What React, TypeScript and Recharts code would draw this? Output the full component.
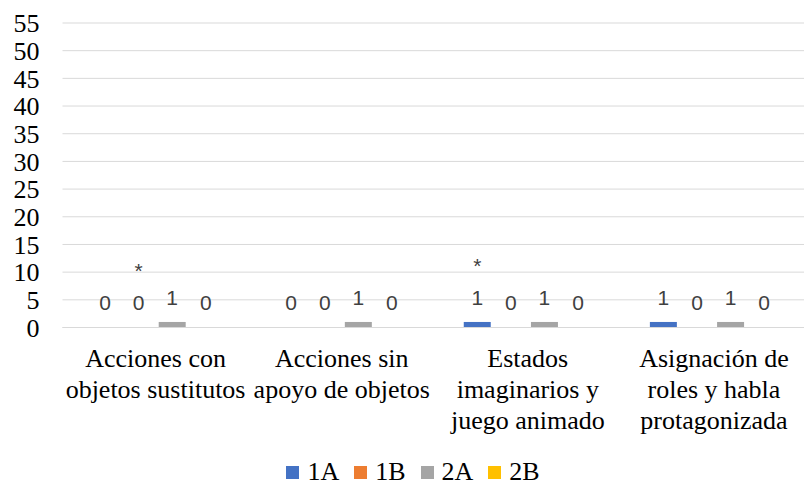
import { Bar, BarChart, CartesianGrid, LabelList, XAxis, YAxis } from "recharts";

const categories = [
  "Acciones con\nobjetos sustitutos",
  "Acciones sin\napoyo de objetos",
  "Estados\nimaginarios y\njuego animado",
  "Asignación de\nroles y habla\nprotagonizada",
];
const values1A = [0, 0, 1, 1];
const values1B = [0, 0, 0, 0];
const values2A = [1, 1, 1, 1];
const values2B = [0, 0, 0, 0];
// asterisks shown above some bars
const marks1A = ["", "", "*", ""];
const marks1B = ["*", "", "", ""];
const yTicks = [0, 5, 10, 15, 20, 25, 30, 35, 40, 45, 50, 55];

const series = [
  { key: "1A", color: "#4472C4" },
  { key: "1B", color: "#ED7D31" },
  { key: "2A", color: "#A5A5A5" },
  { key: "2B", color: "#FFC000" },
];

const data = categories.map((name, i) => ({
  name,
  "1A": values1A[i],
  "1B": values1B[i],
  "2A": values2A[i],
  "2B": values2B[i],
  m1A: marks1A[i],
  m1B: marks1B[i],
}));

const SERIF = "Liberation Serif";
const SANS = "Liberation Sans";

const fontCss = `
html body div.chart-box .serif-text,
html body div.chart-box .serif-text *,
html body div.chart-box svg text.recharts-cartesian-axis-tick-value,
html body div.chart-box svg text.recharts-cartesian-axis-tick-value tspan {
  font-family: "Liberation Serif", serif !important;
}
html body div.chart-box .value-label,
html body div.chart-box .value-label * {
  font-family: "Liberation Sans", sans-serif !important;
}
`;

const CategoryTick = ({ x, y, payload }: any) => {
  const lines = String(payload.value).split("\n");
  return (
    <text x={x} y={y} className="serif-text" textAnchor="middle" fontFamily={SERIF} fontSize={26} fill="#000">
      {lines.map((line, i) => (
        <tspan key={i} x={x} dy={i === 0 ? 39 : 31} fontFamily={SERIF}>
          {line}
        </tspan>
      ))}
    </text>
  );
};

// legend drawn as plain html under the plot
const ChartLegend = () => (
  <div
    className="serif-text"
    style={{
      position: "absolute",
      left: 0,
      top: 459,
      width: 807,
      height: 26,
      paddingLeft: 34,
      boxSizing: "border-box",
      display: "flex",
      justifyContent: "center",
      fontFamily: SERIF,
      fontSize: 26,
      lineHeight: "26px",
    }}
  >
    {series.map((s) => (
      <div key={s.key} style={{ display: "flex", alignItems: "center", marginRight: 15 }}>
        <span style={{ width: 13, height: 13, background: s.color, marginRight: 8 }} />
        <span>{s.key}</span>
      </div>
    ))}
  </div>
);

const labelStyle = { fontFamily: SANS, fontSize: 21, fill: "#404040" };

export default function App() {
  return (
    <div
      className="chart-box"
      style={{ position: "absolute", left: 0, top: 0, width: 804, height: 482, overflow: "hidden", background: "#fff" }}
    >
      <style>{fontCss}</style>
      <BarChart
        width={807}
        height={482}
        data={data}
        margin={{ top: 23, right: 0, left: 0, bottom: 40 }}
        barSize={27}
        barGap={6.6}
      >
        <CartesianGrid vertical={false} stroke="#D9D9D9" />
        <XAxis
          dataKey="name"
          interval={0}
          height={114.5}
          tickLine={false}
          tickSize={0}
          tickMargin={0}
          axisLine={{ stroke: "#D9D9D9" }}
          tick={<CategoryTick />}
        />
        <YAxis
          width={62.5}
          domain={[0, 55]}
          ticks={yTicks}
          interval={0}
          axisLine={false}
          tickLine={false}
          tickSize={0}
          tickMargin={23}
          tick={{ className: "serif-text", fontFamily: SERIF, fontSize: 26, fill: "#000" }}
        />
        {series.map((s) => (
          <Bar key={s.key} dataKey={s.key} fill={s.color} minPointSize={0.01} isAnimationActive={false}>
            <LabelList dataKey={s.key} position="top" offset={17} className="value-label" style={labelStyle} />
            {s.key === "1A" && <LabelList dataKey="m1A" position="top" offset={49} className="value-label" style={labelStyle} />}
            {s.key === "1B" && <LabelList dataKey="m1B" position="top" offset={49} className="value-label" style={labelStyle} />}
          </Bar>
        ))}
      </BarChart>
      <ChartLegend />
    </div>
  );
}
